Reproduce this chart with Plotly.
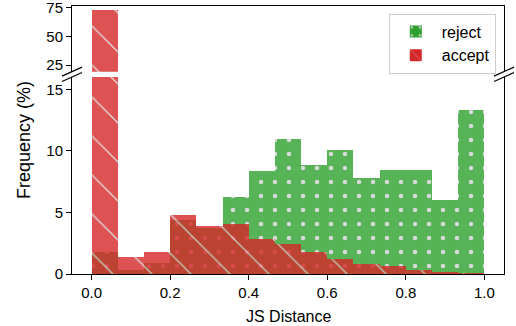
import plotly.graph_objects as go

# ---- data (percent of samples per JS-distance bin, 15 bins on [0, 1]) ----
bin_edges = [i / 15 for i in range(16)]
reject = [1.77, 0.33, 0.92, 4.4, 3.7, 6.22, 8.4, 11.0, 8.86, 10.05, 7.77, 8.48, 8.48, 6.0, 13.28]
accept = [73.0, 1.41, 1.77, 4.81, 3.91, 4.07, 2.83, 2.44, 1.77, 1.2, 0.84, 0.68, 0.3, 0.1, 0.02]
x_ticks = [0.0, 0.2, 0.4, 0.6, 0.8, 1.0]
x_tick_labels = ["0.0", "0.2", "0.4", "0.6", "0.8", "1.0"]
y_ticks_low = [0, 5, 10, 15]
y_ticks_high = [25, 50, 75]

centers = [(a + b) / 2 for a, b in zip(bin_edges[:-1], bin_edges[1:])]
widths = [b - a for a, b in zip(bin_edges[:-1], bin_edges[1:])]

FONT = "Liberation Sans, Arial, sans-serif"
LOW_TOP = 0.735
HIGH_BOT = 0.755

fig = go.Figure()
for xa, ya, show in [("x", "y", True), ("x2", "y2", False)]:
    fig.add_trace(go.Bar(
        x=centers, y=reject, width=widths, name="reject", xaxis=xa, yaxis=ya,
        showlegend=show, legendgroup="reject",
        marker=dict(color="#2ca02c", opacity=0.8, line_width=0,
                    pattern=dict(shape=".", fillmode="overlay", fgcolor="#cfcfcf",
                                 fgopacity=1, size=14, solidity=0.08)),
    ))
    fig.add_trace(go.Bar(
        x=centers, y=accept, width=widths, name="accept", xaxis=xa, yaxis=ya,
        showlegend=show, legendgroup="accept",
        marker=dict(color="#d62728", opacity=0.8, line_width=0,
                    pattern=dict(shape="\\", fillmode="overlay", fgcolor="#d9d9d9",
                                 fgopacity=1, size=27.6, solidity=0.045)),
    ))

axis_common = dict(showgrid=False, zeroline=False, showline=True, linecolor="black",
                   linewidth=1, tickfont=dict(family=FONT, size=15, color="black"),
                   ticks="outside", ticklen=5, tickwidth=1, tickcolor="black",
                   automargin=False, ticklabeloverflow="allow")

shapes = []
for xanchor in (0, 1):
    for yanchor in (LOW_TOP, HIGH_BOT):
        shapes.append(dict(type="line", xref="paper", yref="paper",
                           xsizemode="pixel", ysizemode="pixel",
                           xanchor=xanchor, yanchor=yanchor,
                           x0=-10, x1=10, y0=-4.5, y1=4.5,
                           line=dict(color="black", width=1.2)))

fig.update_layout(
    template="none",
    width=516, height=326,
    margin=dict(l=72, r=12, t=6, b=52, autoexpand=False),
    paper_bgcolor="white", plot_bgcolor="white",
    barmode="overlay", bargap=0,
    font=dict(family=FONT, color="black"),
    xaxis=dict(domain=[0, 1], range=[-0.05, 1.05], anchor="y",
               tickvals=x_ticks, ticktext=x_tick_labels, **axis_common),
    xaxis2=dict(domain=[0, 1], range=[-0.05, 1.05], anchor="y2", matches="x",
                side="top", showgrid=False, zeroline=False, showline=True,
                linecolor="black", linewidth=1, showticklabels=False, ticks="",
                automargin=False),
    yaxis=dict(domain=[0, LOW_TOP], range=[0, 16], tickvals=y_ticks_low,
               mirror=True, anchor="x", **axis_common),
    yaxis2=dict(domain=[HIGH_BOT, 1], range=[19.2, 76.4], tickvals=y_ticks_high,
                mirror=True, anchor="x2", **axis_common),
    legend=dict(x=0.981, y=0.972, xanchor="right", yanchor="top",
                bgcolor="white", bordercolor="#cccccc", borderwidth=1,
                tracegroupgap=0, itemwidth=42,
                font=dict(family=FONT, size=16, color="black")),
    shapes=shapes,
    annotations=[
        dict(text="Frequency (%)", textangle=-90, xref="paper", yref="paper",
             x=0, y=0.5, xshift=-48, xanchor="center", yanchor="middle",
             showarrow=False, font=dict(family=FONT, size=18, color="black")),
        dict(text="JS Distance", xref="paper", yref="paper", x=0.5, y=0,
             yshift=-42, xanchor="center", yanchor="middle", showarrow=False,
             font=dict(family=FONT, size=16, color="black")),
    ],
)

fig.write_html("out.html", config={"displayModeBar": False},
               post_script="document.body.style.margin='0px';")
